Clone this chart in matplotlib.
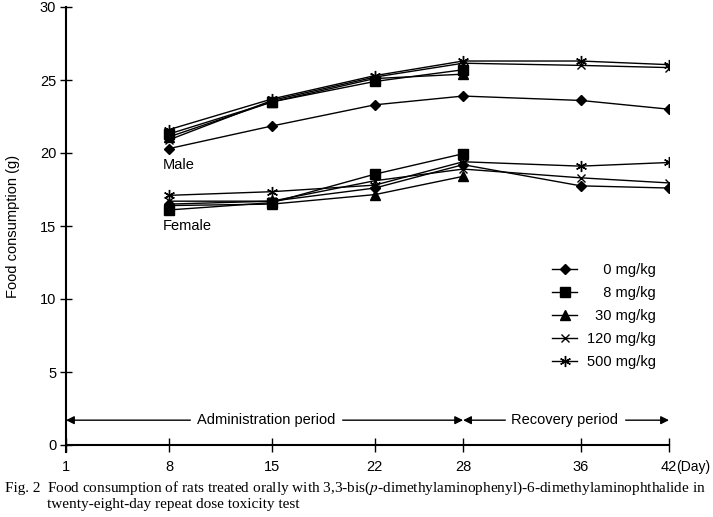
import numpy as np
import matplotlib
matplotlib.use('Agg')
import matplotlib.pyplot as plt
from matplotlib.lines import Line2D

plt.rcParams['font.family'] = ['Liberation Sans', 'DejaVu Sans']
plt.rcParams['mathtext.fontset'] = 'stix'

# days of measurement
days = [8, 15, 22, 28, 36, 42]
tick_days = [1, 8, 15, 22, 28, 36, 42]

doses = ['0 mg/kg', '8 mg/kg', '30 mg/kg', '120 mg/kg', '500 mg/kg']

# male food consumption (g)
male_0 = [20.3, 21.85, 23.3, 23.9, 23.6, 23.0]
male_8 = [21.3, 23.5, 24.9, 25.7]
male_30 = [21.1, 23.5, 25.1, 25.4]
male_120 = [20.9, 23.6, 25.2, 26.15, 26.0, 25.85]
male_500 = [21.6, 23.7, 25.3, 26.3, 26.3, 26.05]

# female food consumption (g)
female_0 = [16.5, 16.7, 17.6, 19.2, 17.75, 17.6]
female_8 = [16.1, 16.6, 18.55, 19.95]
female_30 = [16.4, 16.5, 17.15, 18.4]
female_120 = [16.7, 16.7, 18.1, 18.9, 18.3, 17.95]
female_500 = [17.1, 17.35, 17.8, 19.4, 19.1, 19.35]

asterisk = (6, 2, 0)
styles = {
    '0 mg/kg': dict(marker='D', ms=5),
    '8 mg/kg': dict(marker='s', ms=6.5),
    '30 mg/kg': dict(marker='^', ms=6.5),
    '120 mg/kg': dict(marker='x', ms=6, mew=1),
    '500 mg/kg': dict(marker=asterisk, ms=8, mew=1),
}

male = [male_0, male_8, male_30, male_120, male_500]
female = [female_0, female_8, female_30, female_120, female_500]

fig = plt.figure(figsize=(7.13, 5.17), dpi=100)
ax = fig.add_axes([66 / 713, 72 / 517, 603 / 713, 438 / 517])

for group in (male, female):
    for dose, vals in zip(doses, group):
        x = days[:len(vals)]
        ax.plot(x, vals, color='black', lw=1, mfc='black', mec='black',
                **styles[dose])

ax.set_xlim(1, 42)
ax.set_ylim(0, 30)
ax.set_xticks(tick_days)
ax.set_xticklabels([str(d) for d in tick_days], fontsize=10.5)
ax.set_yticks(range(0, 31, 5))
ax.tick_params(axis='y', direction='inout', length=8, width=1, labelsize=10.5, pad=3)
ax.tick_params(axis='x', direction='inout', length=10, width=1, pad=6)
for side in ('top', 'right'):
    ax.spines[side].set_visible(False)
ax.spines['left'].set_linewidth(1.5)
ax.spines['bottom'].set_linewidth(1.5)
ax.spines['left'].set_bounds(-0.5, 30)
ax.set_ylabel('Food consumption (g)', fontsize=10.5, labelpad=14)

ax.annotate('(Day)', xy=(42, 0), xycoords=('data', 'axes fraction'),
            xytext=(5, -11), textcoords='offset points',
            ha='left', va='top', fontsize=10)

# group labels
ax.text(7.6, 19.2, 'Male', fontsize=10.5, va='center')
ax.text(7.6, 15.0, 'Female', fontsize=10.5, va='center')

# period arrows
arr_y = 1.7
ax.annotate('', xy=(1, arr_y), xytext=(28, arr_y),
            arrowprops=dict(arrowstyle='<|-|>', color='black', lw=1,
                            mutation_scale=12, shrinkA=0, shrinkB=0))
ax.annotate('', xy=(28, arr_y), xytext=(42, arr_y),
            arrowprops=dict(arrowstyle='<|-|>', color='black', lw=1,
                            mutation_scale=12, shrinkA=0, shrinkB=0))
ax.text(14.6, arr_y, 'Administration period', ha='center', va='center',
        fontsize=10.5, backgroundcolor='white')
ax.text(34.9, arr_y, 'Recovery period', ha='center', va='center',
        fontsize=10.5, backgroundcolor='white')

# legend
handles = [Line2D([], [], color='black', lw=1, mfc='black', mec='black',
                  **styles[d]) for d in doses]
labels = ['\u2007\u20070 mg/kg', '\u2007\u20078 mg/kg', '\u200730 mg/kg',
          '120 mg/kg', '500 mg/kg']
ax.legend(handles, labels, loc='upper left', bbox_to_anchor=(0.785, 0.445),
          frameon=False, fontsize=10.5, handlelength=1.7, labelspacing=0.62,
          handletextpad=0.7)

# caption
cap_font = dict(fontsize=11, fontfamily='Liberation Serif', va='baseline')
fig.text(5 / 713, 1 - 492 / 517, 'Fig. 2', **cap_font)
fig.text(47 / 713, 1 - 492 / 517,
         'Food consumption of rats treated orally with 3,3-bis($\\it{p}$-dimethylaminophenyl)-6-dimethylaminophthalide in',
         **cap_font)
fig.text(47 / 713, 1 - 508 / 517, 'twenty-eight-day repeat dose toxicity test',
         **cap_font)

fig.savefig('out.png', dpi=100)
